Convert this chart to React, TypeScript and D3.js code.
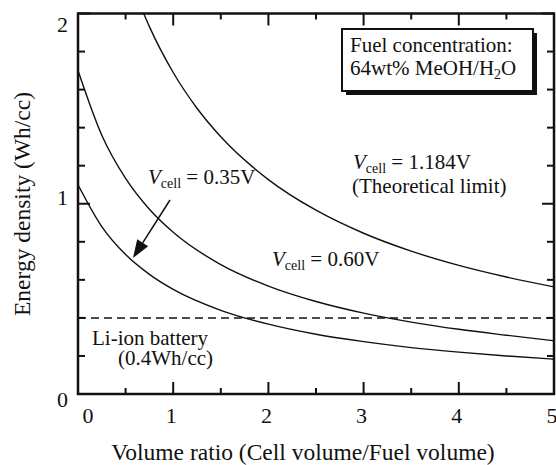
import React from "react";
import * as d3 from "d3";

const W = 556;
const H = 465;

// Curves (x = volume ratio, y = energy density Wh/cc)
const ratio035 = [0, 0.25, 0.5, 0.75, 1, 1.5, 2, 2.5, 3, 3.5, 4, 4.5, 5];
const energy035 = [1.1, 0.88, 0.733, 0.629, 0.55, 0.44, 0.367, 0.314, 0.275, 0.244, 0.22, 0.2, 0.183];
const ratio060 = [0, 0.25, 0.5, 0.75, 1, 1.5, 2, 2.5, 3, 3.5, 4, 4.5, 5];
const energy060 = [1.7, 1.36, 1.133, 0.971, 0.85, 0.68, 0.567, 0.486, 0.425, 0.378, 0.34, 0.309, 0.28];
const ratioTheo = [0.69, 0.75, 1, 1.25, 1.5, 2, 2.5, 3, 3.5, 4, 4.5, 5];
const energyTheo = [2.0, 1.931, 1.69, 1.502, 1.352, 1.127, 0.966, 0.845, 0.751, 0.676, 0.615, 0.563];
const liIon = 0.4;

const xTicks = [0, 1, 2, 3, 4, 5];
const xMinorTicks = [0.5, 1.5, 2.5, 3.5, 4.5];
const yTicks = [0, 1, 2];
const yMinorTicks = [0.2, 0.4, 0.6, 0.8, 1.2, 1.4, 1.6, 1.8];

const FONT = "'Liberation Serif', 'Times New Roman', serif";

export default function App() {
  const left = 78, right = 554, top = 13.5, bottom = 394;
  const x = d3.scaleLinear().domain([0, 5]).range([left, right]);
  const y = d3.scaleLinear().domain([0, 2]).range([bottom, top]);

  const line = d3
    .line<[number, number]>()
    .x((d) => x(d[0]))
    .y((d) => y(d[1]))
    .curve(d3.curveMonotoneX);

  const zip = (a: number[], b: number[]) => a.map((v, i) => [v, b[i]] as [number, number]);

  const curves = [zip(ratio035, energy035), zip(ratio060, energy060), zip(ratioTheo, energyTheo)];

  const yLabelOffset: Record<number, number> = { 0: 13, 1: 1, 2: 18.5 };

  // arrow
  const ax1 = 170, ay1 = 200, ax2 = 133, ay2 = 258;
  const ang = Math.atan2(ay2 - ay1, ax2 - ax1);
  const hl = 18, hw = 6.5;
  const bx = ax2 - hl * Math.cos(ang), by = ay2 - hl * Math.sin(ang);
  const px = -Math.sin(ang), py = Math.cos(ang);

  const vcell = (txt: string, xx: number, yy: number) => (
    <text x={xx} y={yy} fontFamily={FONT} fontSize={21} fill="#111">
      <tspan fontStyle="italic">V</tspan>
      <tspan fontSize={14} dy={4}>cell</tspan>
      <tspan dy={-4}>{" = " + txt}</tspan>
    </text>
  );

  return (
    <svg width={W} height={H} style={{ position: "absolute", left: 0, top: 0, background: "#fff" }}>
      <rect x={0} y={0} width={W} height={H} fill="#fff" />
      <defs>
        <clipPath id="plot">
          <rect x={left} y={top} width={right - left} height={bottom - top} />
        </clipPath>
      </defs>

      {/* curves */}
      <g clipPath="url(#plot)">
        {curves.map((c, i) => (
          <path key={i} d={line(c) || ""} fill="none" stroke="#111" strokeWidth={1.4} />
        ))}
        <line x1={x(0)} x2={x(5)} y1={y(liIon)} y2={y(liIon)} stroke="#111" strokeWidth={1.5} strokeDasharray="8,5" />
      </g>

      {/* ticks */}
      {xTicks.map((t) => (
        <g key={"xt" + t}>
          <line x1={x(t)} x2={x(t)} y1={bottom} y2={bottom - 12} stroke="#111" strokeWidth={2} />
          <line x1={x(t)} x2={x(t)} y1={top} y2={top + 12} stroke="#111" strokeWidth={2} />
          <text x={t === 0 ? x(t) + 10 : x(t) - 2} y={423} textAnchor="middle" fontFamily={FONT} fontSize={22} fill="#111">
            {t}
          </text>
        </g>
      ))}
      {xMinorTicks.map((t) => (
        <g key={"xm" + t}>
          <line x1={x(t)} x2={x(t)} y1={bottom} y2={bottom - 6} stroke="#111" strokeWidth={2} />
          <line x1={x(t)} x2={x(t)} y1={top} y2={top + 6} stroke="#111" strokeWidth={2} />
        </g>
      ))}
      {yTicks.map((t) => (
        <g key={"yt" + t}>
          <line x1={left} x2={left + 12} y1={y(t)} y2={y(t)} stroke="#111" strokeWidth={2} />
          <line x1={right} x2={right - 12} y1={y(t)} y2={y(t)} stroke="#111" strokeWidth={2} />
          <text x={68} y={y(t) + yLabelOffset[t]} textAnchor="end" fontFamily={FONT} fontSize={22} fill="#111">
            {t}
          </text>
        </g>
      ))}
      {yMinorTicks.map((t) => (
        <g key={"ym" + t}>
          <line x1={left} x2={left + 7} y1={y(t)} y2={y(t)} stroke="#111" strokeWidth={2} />
          <line x1={right} x2={right - 7} y1={y(t)} y2={y(t)} stroke="#111" strokeWidth={2} />
        </g>
      ))}

      {/* frame */}
      <rect x={left} y={top} width={right - left} height={bottom - top} fill="none" stroke="#111" strokeWidth={2.5} />

      {/* axis titles */}
      <text x={303} y={460} textAnchor="middle" fontFamily={FONT} fontSize={23.5} fill="#111">
        Volume ratio (Cell volume/Fuel volume)
      </text>
      <text transform={`translate(30, ${204}) rotate(-90)`} textAnchor="middle" fontFamily={FONT} fontSize={23.5} fill="#111">
        Energy density (Wh/cc)
      </text>

      {/* box */}
      <rect x={346} y={33} width={191} height={62} fill="#111" />
      <rect x={342} y={29} width={191} height={62} fill="#fff" stroke="#111" strokeWidth={2} />
      <text x={350} y={52} fontFamily={FONT} fontSize={21} fill="#111">Fuel concentration:</text>
      <text x={350} y={75} fontFamily={FONT} fontSize={21} fill="#111">
        64wt% MeOH/H<tspan fontSize={14} dy={4}>2</tspan>
        <tspan dy={-4}>O</tspan>
      </text>

      {/* annotations */}
      {vcell("1.184V", 353, 169)}
      <text x={352} y={193} fontFamily={FONT} fontSize={21} fill="#111">(Theoretical limit)</text>
      {vcell("0.35V", 148, 184)}
      {vcell("0.60V", 272, 266)}
      <text x={92} y={345} fontFamily={FONT} fontSize={21} fill="#111">Li-ion battery</text>
      <text x={118} y={365} fontFamily={FONT} fontSize={21} fill="#111">(0.4Wh/cc)</text>

      {/* arrow */}
      <line x1={ax1} y1={ay1} x2={bx} y2={by} stroke="#111" strokeWidth={1.5} />
      <polygon
        points={`${ax2},${ay2} ${bx + px * hw},${by + py * hw} ${bx - px * hw},${by - py * hw}`}
        fill="#111"
      />
    </svg>
  );
}
